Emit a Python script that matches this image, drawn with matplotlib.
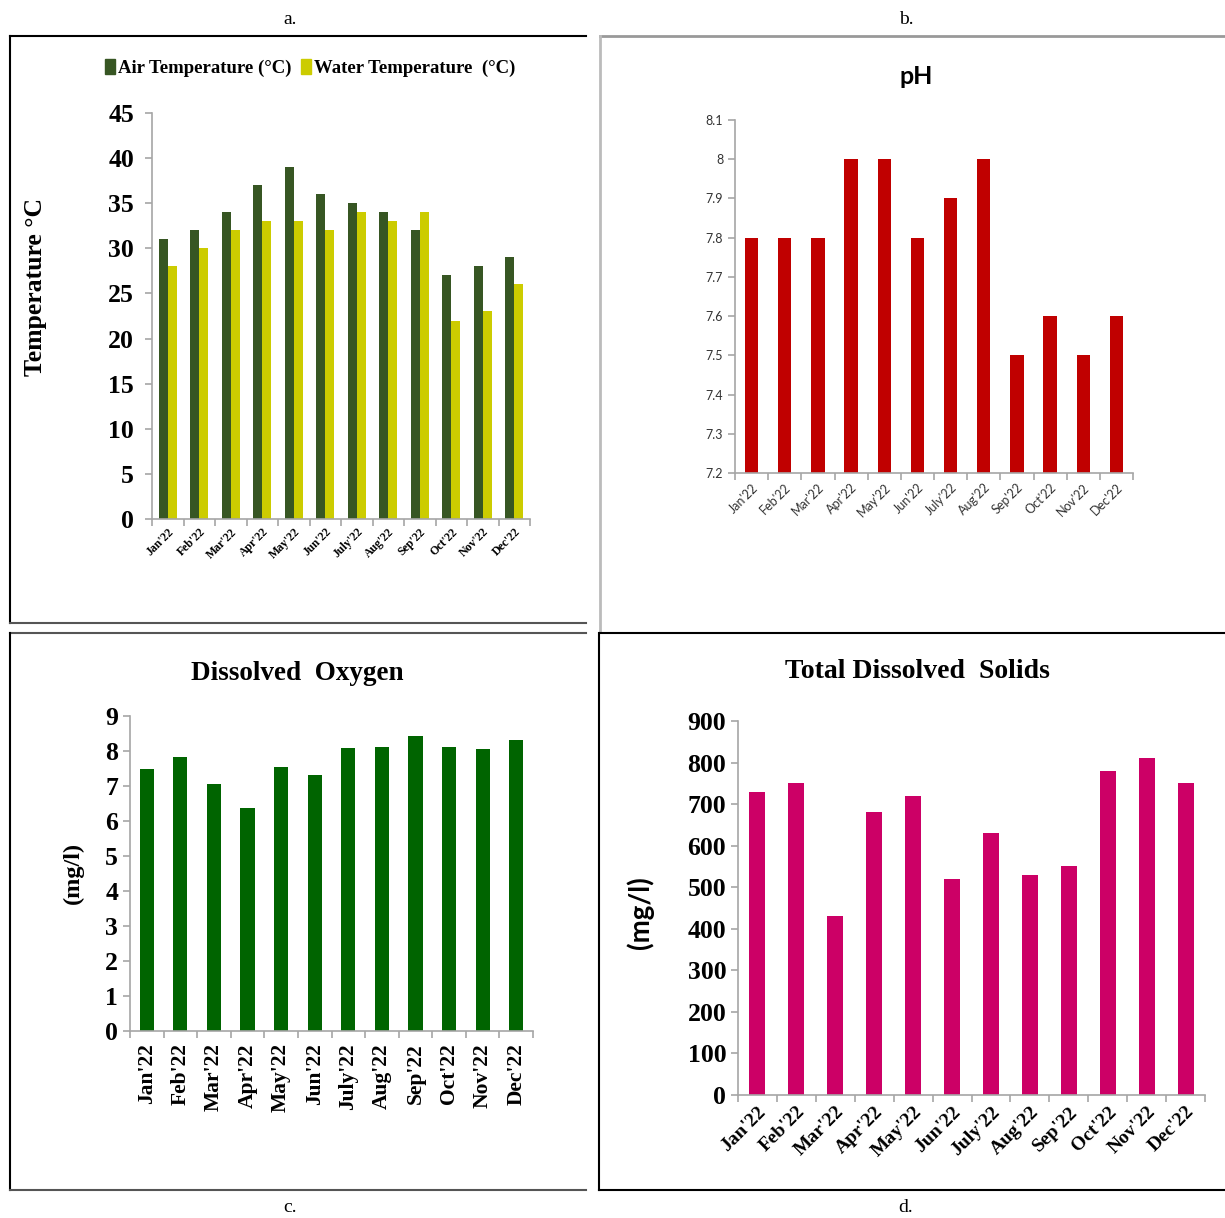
import matplotlib
matplotlib.use('Agg')
import matplotlib.pyplot as plt
from matplotlib.lines import Line2D
from matplotlib.patches import Patch
import numpy as np

# data
months = ["Jan'22", "Feb'22", "Mar'22", "Apr'22", "May'22", "Jun'22",
          "July'22", "Aug'22", "Sep'22", "Oct'22", "Nov'22", "Dec'22"]
air_temp = [31, 32, 34, 37, 39, 36, 35, 34, 32, 27, 28, 29]
water_temp = [28, 30, 32, 33, 33, 32, 34, 33, 34, 22, 23, 26]
ph = [7.8, 7.8, 7.8, 8.0, 8.0, 7.8, 7.9, 8.0, 7.5, 7.6, 7.5, 7.6]
dissolved_oxygen = [7.5, 7.82, 7.05, 6.38, 7.53, 7.31, 8.08, 8.12, 8.42, 8.12, 8.05, 8.31]
tds = [730, 750, 430, 680, 720, 520, 630, 530, 550, 780, 810, 750]

ph_ticks = [7.2, 7.3, 7.4, 7.5, 7.6, 7.7, 7.8, 7.9, 8.0, 8.1]
ph_tick_labels = ['7.2', '7.3', '7.4', '7.5', '7.6', '7.7', '7.8', '7.9', '8', '8.1']

W, H = 1225, 1218
SERIF = 'Liberation Serif'
SANS = 'Lato'
AXIS_GREY = '#a6a6a6'

fig = plt.figure(figsize=(W / 100, H / 100), dpi=100)


def px_axes(left, top, right, bottom):
    return fig.add_axes([left / W, 1 - bottom / H, (right - left) / W, (bottom - top) / H])


def px_line(x0, y0, x1, y1, color='black', lw=1.5):
    fig.add_artist(Line2D([x0 / W, x1 / W], [1 - y0 / H, 1 - y1 / H],
                          transform=fig.transFigure, color=color, lw=lw))


def px_text(x, y, s, **kw):
    fig.text(x / W, 1 - y / H, s, ha='center', va='center', **kw)


def style_axes(ax, n):
    for side in ['top', 'right']:
        ax.spines[side].set_visible(False)
    for side in ['left', 'bottom']:
        ax.spines[side].set_color(AXIS_GREY)
        ax.spines[side].set_linewidth(1.2)
    ax.set_xlim(-0.5, n - 0.5)
    ax.set_xticks(np.arange(n))
    ax.set_xticks(np.arange(n + 1) - 0.5, minor=True)
    ax.tick_params(axis='x', which='major', length=0)
    ax.tick_params(axis='x', which='minor', length=5, color=AXIS_GREY, width=1.2)
    ax.tick_params(axis='y', length=5, color=AXIS_GREY, width=1.2)


x = np.arange(len(months))

# panel borders
px_line(10, 36, 586, 36)
px_line(10, 36, 10, 623)
px_line(10, 623, 586, 623, color='#555555')
px_line(600, 36, 1225, 36, color='#999999', lw=2)
px_line(600, 36, 600, 632, color='#bbbbbb', lw=2)
px_line(600, 633, 1225, 633)
px_line(10, 633, 586, 633, color='#555555')
px_line(10, 633, 10, 1190)
px_line(10, 1190, 586, 1190, color='#555555')
px_line(599, 633, 599, 1190)
px_line(599, 1190, 1225, 1190)

for lx, ly, lab in [(290, 20, 'a.'), (906, 20, 'b.'), (290, 1208, 'c.'), (906, 1208, 'd.')]:
    px_text(lx, ly, lab, fontsize=14, family=SERIF)

# a. temperature
ax = px_axes(152, 113, 530, 519)
bw = 0.28
ax.bar(x - bw / 2, air_temp, bw, color='#375623')
ax.bar(x + bw / 2, water_temp, bw, color='#cccc00')
style_axes(ax, len(months))
ax.set_ylim(0, 45)
ax.set_yticks(range(0, 46, 5))
ax.set_yticklabels([str(v) for v in range(0, 46, 5)], fontsize=18.5, family=SERIF, fontweight='bold')
ax.tick_params(axis='y', pad=8)
ax.set_xticklabels(months, rotation=45, ha='right', rotation_mode='anchor',
                   fontsize=8.5, family=SERIF, fontweight='bold')
ax.tick_params(axis='x', which='major', pad=5)
px_text(36, 287, 'Temperature \u00b0C', rotation=90, fontsize=18.5, family=SERIF, fontweight='bold')
handles = [Patch(color='#375623'), Patch(color='#cccc00')]
fig.legend(handles, ['Air Temperature (\u00b0C)', 'Water Temperature  (\u00b0C)'],
           loc='center', bbox_to_anchor=(310 / W, 1 - 68 / H), ncol=2, frameon=False,
           handlelength=0.55, handleheight=0.85, handletextpad=0.15, columnspacing=0.5,
           prop={'family': SERIF, 'weight': 'bold', 'size': 13.5})

# b. pH
ax = px_axes(735, 120, 1133, 473)
ax.bar(x, ph, 0.4, color='#c00000')
style_axes(ax, len(months))
ax.set_ylim(7.2, 8.1)
ax.set_yticks(ph_ticks)
ax.set_yticklabels(ph_tick_labels, fontsize=9, family=SANS, color='#333333')
ax.set_xticklabels(months, rotation=45, ha='right', rotation_mode='anchor',
                   fontsize=9, family=SANS, color='#333333')
ax.tick_params(axis='x', which='major', pad=6)
px_text(916, 77, 'pH', fontsize=18, family=SANS, fontweight='bold')

# c. dissolved oxygen
ax = px_axes(130, 716, 533, 1031)
ax.bar(x, dissolved_oxygen, 0.42, color='#006400')
style_axes(ax, len(months))
ax.set_ylim(0, 9)
ax.set_yticks(range(0, 10))
ax.set_yticklabels([str(v) for v in range(0, 10)], fontsize=18.5, family=SERIF, fontweight='bold')
ax.set_xticklabels(months, rotation=90, ha='center', va='top',
                   fontsize=15.5, family=SERIF, fontweight='bold')
ax.tick_params(axis='x', which='major', pad=9)
px_text(73, 873, '(mg/l)', rotation=90, fontsize=17.5, family=SERIF, fontweight='bold')
px_text(297, 674, 'Dissolved  Oxygen', fontsize=19.5, family=SERIF, fontweight='bold')

# d. total dissolved solids
ax = px_axes(738, 721, 1205, 1095)
ax.bar(x, tds, 0.41, color='#cc0066')
style_axes(ax, len(months))
ax.set_ylim(0, 900)
ax.set_yticks(range(0, 901, 100))
ax.set_yticklabels([str(v) for v in range(0, 901, 100)], fontsize=18.5, family=SERIF, fontweight='bold')
ax.set_xticklabels(months, rotation=45, ha='right', rotation_mode='anchor',
                   fontsize=14, family=SERIF, fontweight='bold')
ax.tick_params(axis='x', which='major', pad=6)
px_text(640, 913, '(mg/l)', rotation=90, fontsize=20, family=SANS, fontweight='bold')
px_text(917, 671, 'Total Dissolved  Solids', fontsize=20, family=SERIF, fontweight='bold')

fig.savefig('out.png', dpi=100)
